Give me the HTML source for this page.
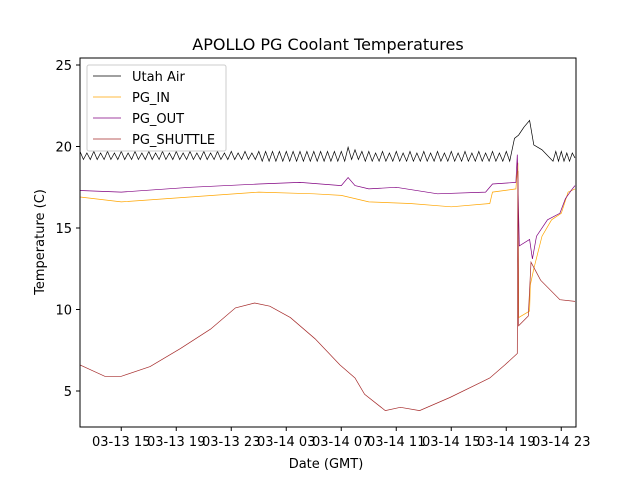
<!DOCTYPE html>
<html><head><meta charset="utf-8"><style>
body{margin:0;background:#fff;font-family:"Liberation Sans","DejaVu Sans",sans-serif}
svg text{font-family:"DejaVu Sans","Liberation Sans",sans-serif}
</style></head><body>
<svg id="c" width="640" height="480" xmlns="http://www.w3.org/2000/svg">
<rect width="640" height="480" fill="#fff"/>
<text x="328" y="50" text-anchor="middle" font-size="16">APOLLO PG Coolant Temperatures</text>
<text x="326" y="468" text-anchor="middle" font-size="13">Date (GMT)</text>
<text x="44" y="242" text-anchor="middle" font-size="13" transform="rotate(-90 44 242)">Temperature (C)</text>
<g id="plot"></g>
<rect x="80" y="58" width="496" height="369" fill="none" stroke="#000" stroke-width="1"/>
<g>
<rect x="87" y="65" width="139" height="86" fill="#fff" fill-opacity="0.8" stroke="#ccc" rx="2"/>
<g><line x1="93" x2="121" y1="76" y2="76" stroke="#000" stroke-width="0.7"/><text x="132" y="81" font-size="13">Utah Air</text></g>
<g><line x1="93" x2="121" y1="97" y2="97" stroke="#ffa500" stroke-width="0.7"/><text x="132" y="102" font-size="13">PG_IN</text></g>
<g><line x1="93" x2="121" y1="118" y2="118" stroke="#800080" stroke-width="0.7"/><text x="132" y="123" font-size="13">PG_OUT</text></g>
<g><line x1="93" x2="121" y1="139" y2="139" stroke="#a52a2a" stroke-width="0.7"/><text x="132" y="144" font-size="13">PG_SHUTTLE</text></g>
</g>
</svg>
<script>
const xTickHours=[3,7,11,15,19,23,27,31,35];
const xTickLabels=["03-13 15","03-13 19","03-13 23","03-14 03","03-14 07","03-14 11","03-14 15","03-14 19","03-14 23"];
const yTicks=[5,10,15,20,25];
const airValues=[19.7,19.2,19.6,19.2,19.7,19.2,19.6,19.2,19.7,19.2,19.6,19.2,19.7,19.2,19.6,19.2,19.7,19.2,19.6,19.2,
19.7,19.2,19.6,19.2,19.7,19.2,19.6,19.2,19.7,19.2,19.6,19.2,19.7,19.2,19.6,19.2,19.7,19.2,19.6,19.2,
19.7,19.2,19.6,19.2,19.7,19.2,19.6,19.2,19.7,19.2,19.6,19.2,19.7,19.1,19.7,19.1,19.7,19.1,19.7,19.1,
19.7,19.1,19.7,19.1,19.7,19.1,19.7,19.1,19.7,19.1,19.7,19.1,19.7,19.1,19.7,19.1,19.7,19.1,19.95,19.2,
19.8,19.2,19.7,19.1,19.7,19.1,19.6,19.1,19.7,19.1,19.6,19.1,19.7,19.1,19.6,19.1,19.7,19.1,19.6,19.1,
19.7,19.1,19.6,19.1,19.7,19.1,19.6,19.1,19.7,19.1,19.6,19.1,19.7,19.1,19.6,19.1,19.7,19.1,19.6,19.1,
19.7,19.1,19.6,19.1,19.7,19.1];
const airTailHours=[31.6,31.9,32.3,32.7,33.0,33.6,34.4,34.6,34.8,35.0,35.2,35.4,35.6,35.8,36];
const airTailValues=[20.5,20.7,21.2,21.6,20.1,19.8,19.1,19.7,19.1,19.7,19.1,19.6,19.1,19.6,19.3];
const inHours=[0,3,8,13,17,19,21,24,27,29.8,30,31.7,31.85,31.9,32.7,32.75,33.0,33.6,34.3,35.0,35.5,36];
const inValues=[16.9,16.6,16.9,17.2,17.1,17.0,16.6,16.5,16.3,16.5,17.2,17.4,19.0,9.5,9.9,11.5,12.5,14.5,15.5,15.9,17.2,17.4];
const outHours=[0,3,8,13,16,19,19.5,20,21,23,26,29.5,30,31.7,31.8,31.95,32.7,32.9,33.2,34.0,34.9,35.3,35.8,36];
const outValues=[17.3,17.2,17.5,17.7,17.8,17.6,18.1,17.6,17.4,17.5,17.1,17.2,17.7,17.8,19.5,13.9,14.3,13.1,14.5,15.5,15.9,16.8,17.4,17.6];
const shHours=[0,1.8,3,5.1,7.3,9.5,11.3,12.7,13.8,15.3,17.1,18.9,20,20.7,22.2,23.3,24.7,26.9,29.8,30.9,31.8,31.85,31.9,32.6,32.8,33.5,34.9,36];
const shValues=[6.6,5.9,5.9,6.5,7.6,8.8,10.1,10.4,10.2,9.5,8.2,6.6,5.8,4.8,3.8,4.0,3.8,4.6,5.8,6.6,7.3,18.5,9.0,9.6,12.9,11.8,10.6,10.5];
const NS="http://www.w3.org/2000/svg";
const X=t=>80+t*13.75, Y=v=>391-(v-5)*16.3;
const svg=document.getElementById('c'), plot=document.getElementById('plot');
function mk(tag,attrs,parent){const e=document.createElementNS(NS,tag);for(const k in attrs)e.setAttribute(k,attrs[k]);parent.appendChild(e);return e;}
xTickHours.forEach((h,i)=>{
 const g=mk('g',{},svg);
 
 
 mk('line',{x1:X(h),x2:X(h),y1:427,y2:431,stroke:'#000'},g);
 const t=mk('text',{x:X(h),y:446,'text-anchor':'middle','font-size':'13'},g);t.textContent=xTickLabels[i];
});
yTicks.forEach(v=>{
 const g=mk('g',{},svg);
 
 
 mk('line',{x1:76,x2:80,y1:Y(v),y2:Y(v),stroke:'#000'},g);
 const t=mk('text',{x:72,y:Y(v)+5,'text-anchor':'end','font-size':'13'},g);t.textContent=v;
});
function line(hs,vs,color,name){
 const d=hs.map((h,i)=>(i?'L':'M')+X(h).toFixed(1)+' '+Y(vs[i]).toFixed(1)).join(' ');
 const p=mk('path',{d:d,fill:'none',stroke:color,'stroke-width':'0.7'},plot);
 
 
}
const airHours=airValues.map((v,i)=>i*0.25);
line(airHours.concat(airTailHours),airValues.concat(airTailValues),'#000','utah-air-line');
line(inHours,inValues,'#ffa500','pg-in-line');
line(outHours,outValues,'#800080','pg-out-line');
line(shHours,shValues,'#a52a2a','pg-shuttle-line');
</script>
</body></html>
